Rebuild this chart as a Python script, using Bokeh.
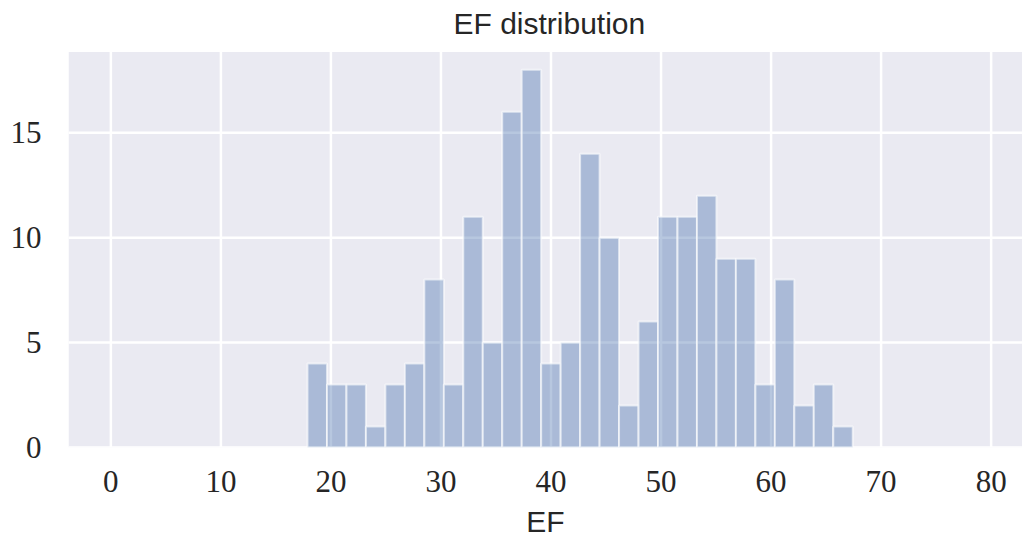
import numpy as np
from bokeh.plotting import figure
from bokeh.models import FixedTicker, ColumnDataSource
from bokeh.core.properties import value
from bokeh.embed import file_html
from bokeh.resources import INLINE

# Histogram of EF values
counts = [4, 3, 3, 1, 3, 4, 8, 3, 11, 5, 16, 18, 4, 5, 14, 10, 2, 6,
          11, 11, 12, 9, 9, 3, 8, 2, 3, 1]
ef_min = 17.87
ef_max = 67.42
x_ticks = [0, 10, 20, 30, 40, 50, 60, 70, 80]
y_ticks = [0, 5, 10, 15]
title_text = "EF distribution"
x_label = "EF"

# axes extent (data units)
x_lo, x_hi = -3.85, 82.85
y_lo, y_hi = 0, 18.85
y_canvas_top = 21.3    # data value at the very top of the canvas
title_y = 20.2

edges = np.linspace(ef_min, ef_max, len(counts) + 1)
src = ColumnDataSource(dict(left=edges[:-1], right=edges[1:],
                            top=counts, bottom=[0] * len(counts)))

p = figure(width=1022, height=540, output_backend="svg", toolbar_location=None,
           x_range=(x_lo, x_hi), y_range=(y_lo, y_canvas_top),
           min_border_left=68, min_border_right=0, min_border_top=0,
           min_border_bottom=93)

p.background_fill_color = "white"
p.border_fill_color = "white"
p.outline_line_color = None
p.xgrid.visible = False
p.ygrid.visible = False

# axes background
p.quad(left=[x_lo], right=[x_hi], bottom=[y_lo], top=[y_hi],
       fill_color="#eaeaf2", line_color=None)

# grid lines
p.segment(x0=x_ticks, x1=x_ticks, y0=[y_lo] * len(x_ticks), y1=[y_hi] * len(x_ticks),
          line_color="white", line_width=2.5)
p.segment(x0=[x_lo] * len(y_ticks), x1=[x_hi] * len(y_ticks), y0=y_ticks, y1=y_ticks,
          line_color="white", line_width=2.5)

# histogram bars
p.quad(left="left", right="right", top="top", bottom="bottom", source=src,
       fill_color="#4c72b0", fill_alpha=0.4,
       line_color="white", line_alpha=0.6, line_width=2)

# title
p.text(x=[(x_lo + x_hi) / 2 + 0.35], y=[title_y], text=[title_text],
       text_align="center", text_baseline="alphabetic",
       text_font=value("Liberation Sans"), text_font_size="30px",
       text_color="#262626")

for ax in (p.xaxis[0], p.yaxis[0]):
    ax.axis_line_color = None
    ax.major_tick_line_color = None
    ax.minor_tick_line_color = None
    ax.major_tick_in = 0
    ax.major_tick_out = 0
    ax.minor_tick_in = 0
    ax.minor_tick_out = 0
    ax.major_label_text_font = "Liberation Serif"
    ax.major_label_text_font_size = "31px"
    ax.major_label_text_color = "#262626"

p.xaxis.ticker = FixedTicker(ticks=x_ticks)
p.yaxis.ticker = FixedTicker(ticks=y_ticks)
p.xaxis.major_label_standoff = 23
p.yaxis.major_label_standoff = 27
p.xaxis.axis_label = x_label
p.xaxis.axis_label_text_font = "Liberation Sans"
p.xaxis.axis_label_text_font_size = "30px"
p.xaxis.axis_label_text_font_style = "normal"
p.xaxis.axis_label_text_color = "#262626"
p.xaxis.axis_label_standoff = 10

open("out.html", "w").write(file_html(p, INLINE))
